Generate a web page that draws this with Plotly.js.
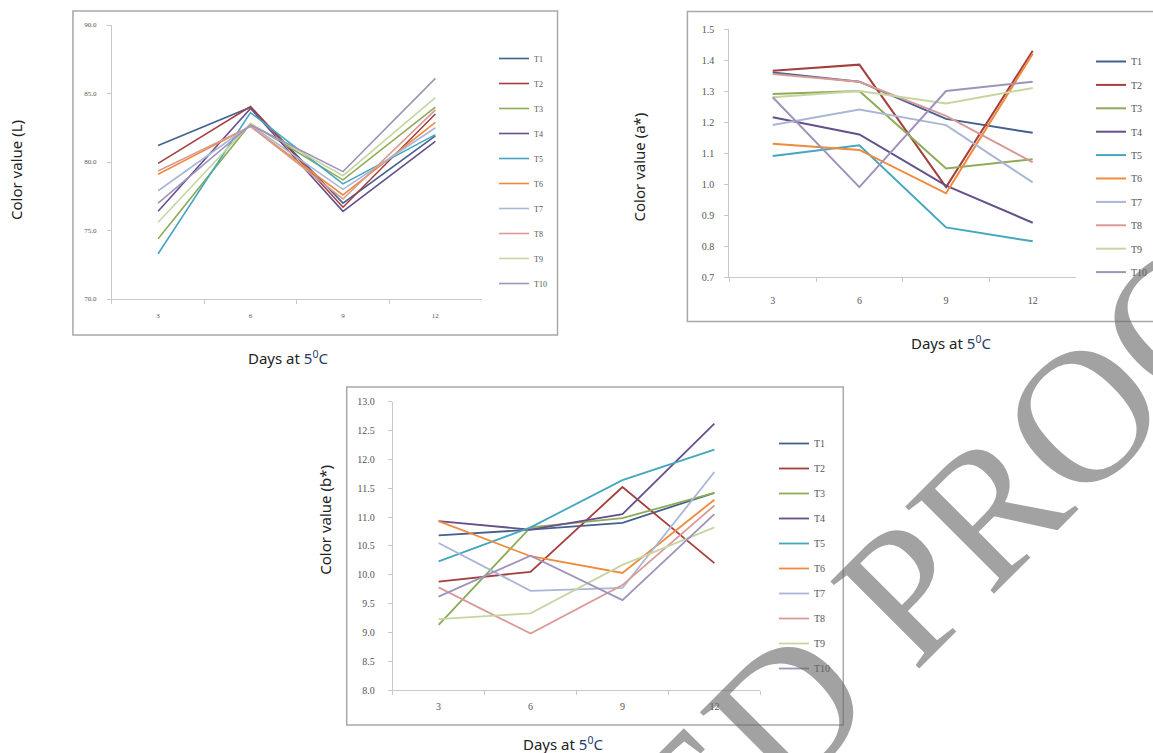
<!DOCTYPE html>
<html><head><meta charset="utf-8">
<script src="https://cdn.plot.ly/plotly-3.0.1.min.js"></script>
<style>html,body{margin:0;padding:0;background:#fff;}</style>
</head><body>
<div id="chart" style="width:1153px;height:753px;"></div>
<script>
const days = ['3', '6', '9', '12'];
const seriesNames = ['T1','T2','T3','T4','T5','T6','T7','T8','T9','T10'];
const seriesColors = ['#44608f','#a3403e','#8eab57','#66508c','#45a6bf','#f08a3c','#a9b6d6','#d99a96','#c6d6a3','#9f93bb'];

// Color value (L)
const valuesL = [
  [81.2, 84.0, 77.0, 81.9],
  [79.9, 84.05, 76.7, 83.5],
  [74.4, 82.8, 78.7, 84.0],
  [76.4, 83.9, 76.4, 81.5],
  [73.3, 83.6, 78.4, 82.0],
  [79.1, 82.6, 77.6, 82.9],
  [77.9, 82.7, 78.0, 82.5],
  [79.35, 82.6, 77.3, 83.8],
  [75.6, 82.8, 79.0, 84.7],
  [77.0, 82.7, 79.3, 86.1]
];
// Color value (a*)
const valuesA = [
  [1.36, 1.33, 1.21, 1.165],
  [1.365, 1.385, 0.99, 1.43],
  [1.29, 1.30, 1.05, 1.08],
  [1.215, 1.16, 0.995, 0.875],
  [1.09, 1.125, 0.86, 0.815],
  [1.13, 1.11, 0.97, 1.42],
  [1.19, 1.24, 1.19, 1.005],
  [1.355, 1.33, 1.22, 1.07],
  [1.28, 1.30, 1.26, 1.31],
  [1.28, 0.99, 1.30, 1.33]
];
// Color value (b*)
const valuesB = [
  [10.68, 10.78, 10.9, 11.42],
  [9.88, 10.05, 11.52, 10.2],
  [9.13, 10.82, 10.98, 11.42],
  [10.93, 10.78, 11.05, 12.62],
  [10.23, 10.82, 11.64, 12.17],
  [10.93, 10.32, 10.03, 11.3],
  [10.55, 9.72, 9.77, 11.78],
  [9.78, 8.98, 9.82, 11.2],
  [9.23, 9.33, 10.17, 10.82],
  [9.62, 10.33, 9.56, 11.05]
];
const yTitles = ['Color value (L)', 'Color value (a*)', 'Color value (b*)'];
const xTitle = 'Days at <span style="color:#1f3d6b">5<sup>0</sup>C</span>';
const watermark = 'ACCEPTED PROOF';

const W = 1153, H = 753;
const px = v => v / W;
const py = v => 1 - v / H;

const charts = [
  {data: valuesL, lw: 1.6},
  {data: valuesA, lw: 2},
  {data: valuesB, lw: 1.8}
];

const traces = [];
charts.forEach((c, k) => {
  const suf = k === 0 ? '' : String(k + 1);
  c.data.forEach((vals, i) => {
    traces.push({
      type: 'scatter', mode: 'lines',
      x: days, y: vals,
      xaxis: 'x' + suf, yaxis: 'y' + suf,
      name: seriesNames[i],
      legend: 'legend' + suf,
      legendgroup: 'g' + k + '_' + i,
      line: {color: seriesColors[i], width: c.lw},
      hoverinfo: 'skip'
    });
  });
});

const axisLine = '#c8c8c8';
function xax(d0, d1, anchor, fsize, standoff) {
  return {
    domain: [px(d0), px(d1)], anchor: anchor, type: 'category',
    range: [-0.5, 3.5], tickson: 'boundaries', ticks: 'outside', ticklen: 4,
    tickcolor: axisLine, showline: true, linecolor: axisLine, linewidth: 1,
    showgrid: false, zeroline: false, fixedrange: true,
    tickfont: {family: 'Liberation Serif', size: fsize, color: '#555'},
    ticklabelstandoff: standoff
  };
}
function yax(d0, d1, anchor, r, dt, fsize, standoff) {
  return {
    domain: [py(d1), py(d0)], anchor: anchor, range: r, dtick: dt, tick0: r[0],
    tickformat: '.1f', ticks: 'outside', ticklen: 4, tickcolor: axisLine,
    showline: true, linecolor: axisLine, linewidth: 1, showgrid: false,
    zeroline: false, fixedrange: true,
    tickfont: {family: 'Liberation Serif', size: fsize, color: '#555'},
    ticklabelstandoff: standoff
  };
}
function leg(x, y, fsize, gap) {
  return {
    x: px(x), y: py(y), xanchor: 'left', yanchor: 'top',
    font: {family: 'Liberation Serif', size: fsize, color: '#555'},
    traceorder: 'grouped', tracegroupgap: gap, bgcolor: 'rgba(0,0,0,0)',
    itemclick: false, itemdoubleclick: false
  };
}
function box(x0, y0, x1, y1) {
  return {type: 'rect', xref: 'paper', yref: 'paper', x0: px(x0), x1: px(x1),
    y0: py(y1), y1: py(y0), line: {color: '#a8a8a8', width: 1.5},
    fillcolor: 'rgba(0,0,0,0)', layer: 'below'};
}
const titleFont = {family: 'Noto Sans', size: 15, color: '#222'};
function ann(text, x, y, angle) {
  return {text: text, xref: 'paper', yref: 'paper', x: px(x), y: py(y),
    xanchor: 'center', yanchor: 'middle', showarrow: false,
    textangle: angle || 0, font: titleFont};
}

const layout = {
  width: W, height: H,
  margin: {l: 0, r: 0, t: 0, b: 0},
  paper_bgcolor: '#fff', plot_bgcolor: 'rgba(0,0,0,0)',
  showlegend: true,
  xaxis: xax(112, 482, 'y', 7, 10),
  yaxis: yax(25, 299, 'x', [70, 90], 5, 7, 9),
  xaxis2: xax(730, 1077, 'y2', 10, 14),
  yaxis2: yax(29, 277, 'x2', [0.7, 1.5], 0.1, 10, 8),
  xaxis3: xax(393, 761, 'y3', 10, 7),
  yaxis3: yax(401.7, 690, 'x3', [8, 13], 0.5, 10, 11),
  legend: leg(494, 44, 8, 6),
  legend2: leg(1092, 47, 10, 4.4),
  legend3: leg(774, 429, 10, 6),
  shapes: [box(73, 11, 558, 335), box(688, 11.5, 1156, 321.5), box(347, 387, 844, 725)],
  annotations: [
    ann(yTitles[0], 16, 170, -90),
    ann(yTitles[1], 640, 167, -90),
    ann(yTitles[2], 325, 520, -90),
    ann(xTitle, 288, 357),
    ann(xTitle, 952, 342),
    ann(xTitle, 563, 743),
    {text: watermark, xref: 'paper', yref: 'paper', x: px(723), y: py(775),
      xanchor: 'center', yanchor: 'middle', showarrow: false, textangle: -45,
      font: {family: 'Liberation Serif', size: 190, color: 'rgba(105,105,105,0.62)'}}
  ]
};

Plotly.newPlot('chart', traces, layout, {displayModeBar: false, staticPlot: true});
</script>
</body></html>
